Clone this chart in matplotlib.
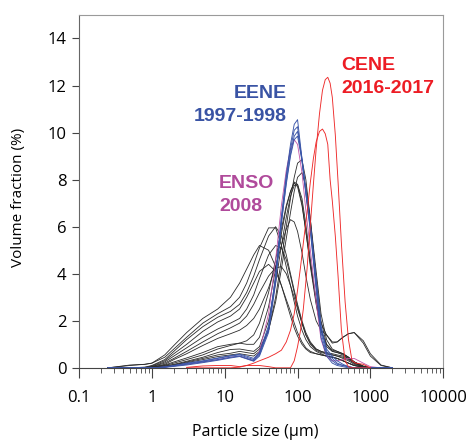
import matplotlib.pyplot as plt
from matplotlib.ticker import LogLocator, NullFormatter, FixedLocator

plt.rcParams['font.family'] = ['Open Sans', 'DejaVu Sans']

# particle size grid (um), shared by the black / blue / magenta curves
size_um = [0.25, 0.5, 0.8, 1, 1.5, 2,
           3, 5, 8, 12, 16, 20,
           25, 30, 40, 50, 60, 70,
           80, 90, 100, 115, 130, 150,
           180, 210, 250, 300, 350, 420,
           500, 600, 800, 1000, 1400, 2000]

# finer grid for the narrow red peaks
size_red = [3, 5, 8, 12, 16, 20, 25, 30, 40, 50, 60, 70,
            80, 90, 100, 110, 120, 135, 150, 165, 180, 200, 220, 240,
            260, 280, 300, 330, 360, 400, 450, 500, 560, 630, 800, 1000]

# other years (black)
k_a = [0, 0.12, 0.15, 0.2, 0.55, 0.95, 1.5, 2.1, 2.5, 3.0, 3.6, 4.2,
       4.8, 5.2, 5.0, 4.3, 3.5, 2.8, 2.2, 1.7, 1.35, 1.0, 0.8, 0.65,
       0.6, 0.55, 0.5, 0.45, 0.4, 0.3, 0.2, 0.1, 0.03, 0, 0, 0]
k_b = [0, 0.1, 0.15, 0.2, 0.45, 0.8, 1.3, 1.9, 2.3, 2.6, 3.0, 3.6,
       4.4, 5.1, 5.95, 5.95, 5.2, 4.3, 3.5, 2.8, 2.2, 1.6, 1.2, 0.9,
       0.7, 0.6, 0.5, 0.45, 0.4, 0.3, 0.2, 0.1, 0.03, 0, 0, 0]
k_c = [0, 0, 0.03, 0.1, 0.35, 0.7, 1.2, 1.75, 2.15, 2.4, 2.7, 3.2,
       3.9, 4.6, 5.6, 6.0, 5.6, 4.8, 4.0, 3.3, 2.7, 2.0, 1.5, 1.1,
       0.8, 0.7, 0.6, 0.55, 0.5, 0.4, 0.3, 0.15, 0.05, 0, 0, 0]
k_d = [0, 0, 0.02, 0.08, 0.3, 0.6, 1.0, 1.55, 1.95, 2.2, 2.5, 3.0,
       3.6, 4.1, 4.4, 4.1, 3.5, 2.9, 2.4, 1.9, 1.5, 1.1, 0.85, 0.7,
       0.6, 0.55, 0.5, 0.45, 0.4, 0.3, 0.2, 0.1, 0.03, 0, 0, 0]
k_e = [0, 0, 0, 0.05, 0.25, 0.5, 0.85, 1.3, 1.65, 1.9, 2.1, 2.5,
       3.1, 3.8, 4.8, 5.2, 5.1, 4.6, 3.9, 3.2, 2.6, 1.9, 1.4, 1.0,
       0.75, 0.65, 0.6, 0.55, 0.5, 0.45, 0.35, 0.2, 0.05, 0, 0, 0]
k_f = [0, 0, 0, 0.05, 0.2, 0.4, 0.7, 1.1, 1.45, 1.7, 1.9, 2.2,
       2.7, 3.2, 3.9, 4.25, 4.3, 4.0, 3.5, 3.0, 2.5, 1.9, 1.4, 1.05,
       0.8, 0.7, 0.65, 0.6, 0.55, 0.5, 0.4, 0.25, 0.08, 0, 0, 0]
k_g = [0, 0, 0, 0.03, 0.15, 0.35, 0.6, 0.95, 1.25, 1.45, 1.6, 1.8,
       2.1, 2.5, 3.4, 4.3, 5.2, 5.9, 6.3, 6.2, 5.8, 4.9, 3.9, 2.9,
       2.0, 1.6, 1.4, 1.1, 1.1, 1.3, 1.45, 1.5, 1.05, 0.5, 0.1, 0]
k_h = [0, 0, 0, 0.02, 0.1, 0.2, 0.35, 0.55, 0.8, 0.95, 1.05, 1.15,
       1.4, 1.9, 3.2, 4.6, 5.9, 6.9, 7.5, 7.85, 7.7, 6.9, 5.8, 4.4,
       2.9, 1.9, 1.4, 1.05, 1.1, 1.3, 1.45, 1.5, 1.15, 0.6, 0.12, 0]
k_i = [0, 0, 0, 0, 0.08, 0.15, 0.28, 0.45, 0.65, 0.78, 0.8, 0.75,
       0.7, 0.9, 2.0, 3.6, 5.2, 6.4, 7.3, 7.75, 7.8, 7.2, 6.1, 4.6,
       2.8, 1.6, 0.9, 0.7, 0.65, 0.55, 0.4, 0.2, 0.05, 0, 0, 0]
k_j = [0, 0, 0, 0, 0.05, 0.12, 0.22, 0.35, 0.48, 0.55, 0.6, 0.55,
       0.5, 0.7, 1.6, 3.0, 4.6, 6.0, 7.2, 8.1, 8.7, 8.85, 8.0, 6.3,
       3.8, 2.0, 1.0, 0.7, 0.65, 0.6, 0.45, 0.25, 0.05, 0, 0, 0]
k_k = [0, 0, 0, 0, 0.05, 0.12, 0.25, 0.4, 0.55, 0.62, 0.7, 0.65,
       0.6, 0.8, 1.6, 2.8, 4.2, 5.5, 6.6, 7.5, 8.1, 8.3, 7.7, 6.3,
       4.1, 2.3, 1.2, 0.8, 0.7, 0.6, 0.45, 0.25, 0.05, 0, 0, 0]
k_l = [0, 0, 0, 0.03, 0.12, 0.25, 0.42, 0.65, 0.9, 1.0, 1.05, 1.0,
       1.0, 1.3, 2.6, 4.2, 5.7, 6.8, 7.5, 7.9, 7.8, 7.0, 5.8, 4.3,
       2.7, 1.6, 1.0, 0.75, 0.7, 0.6, 0.45, 0.25, 0.06, 0, 0, 0]

# EENE 1997-1998 (blue)
b_1 = [0, 0, 0, 0, 0.03, 0.08, 0.15, 0.25, 0.35, 0.45, 0.5, 0.4,
       0.3, 0.55, 1.6, 3.8, 6.4, 8.2, 9.5, 10.35, 10.55, 8.9, 7.4, 5.8,
       3.3, 1.3, 0.5, 0.2, 0.1, 0.05, 0, 0, 0, 0, 0, 0]
b_2 = [0, 0, 0, 0, 0.03, 0.1, 0.18, 0.28, 0.4, 0.5, 0.55, 0.45,
       0.35, 0.6, 1.7, 3.9, 6.4, 8.1, 9.3, 10.1, 10.25, 8.8, 7.4, 5.9,
       3.5, 1.5, 0.6, 0.3, 0.15, 0.1, 0.05, 0, 0, 0, 0, 0]
b_3 = [0, 0, 0, 0, 0.02, 0.06, 0.12, 0.22, 0.32, 0.42, 0.48, 0.38,
       0.28, 0.5, 1.5, 3.6, 6.1, 7.9, 9.1, 9.85, 10.05, 8.9, 7.6, 6.1,
       3.8, 1.8, 0.7, 0.4, 0.2, 0.1, 0.05, 0, 0, 0, 0, 0]
b_4 = [0, 0, 0, 0, 0.04, 0.1, 0.2, 0.3, 0.42, 0.52, 0.58, 0.5,
       0.4, 0.65, 1.8, 3.9, 6.2, 7.8, 9.0, 9.7, 9.85, 8.8, 7.5, 6.0,
       3.7, 1.7, 0.8, 0.5, 0.3, 0.15, 0.05, 0, 0, 0, 0, 0]

# ENSO 2008 (magenta)
m_1 = [0, 0, 0, 0, 0.03, 0.08, 0.15, 0.25, 0.35, 0.45, 0.5, 0.4,
       0.3, 0.7, 2.3, 4.6, 6.9, 8.4, 9.3, 9.7, 9.5, 8.3, 6.7, 5.0,
       2.8, 1.2, 0.5, 0.3, 0.3, 0.35, 0.4, 0.4, 0.2, 0.05, 0, 0]

# CENE 2016-2017 (red), on size_red
r_1 = [0.02, 0.08, 0.1, 0.1, 0.05, 0.1, 0.1, 0.1, 0.05, 0, 0, 0,
       0, 0.3, 0.9, 1.6, 2.5, 4.2, 6.1, 7.8, 9.3, 10.8, 11.8, 12.25,
       12.35, 12.1, 11.5, 9.9, 7.9, 5.3, 2.8, 1.2, 0.3, 0.2, 0.15, 0]
r_2 = [0, 0, 0, 0, 0.03, 0.1, 0.2, 0.3, 0.45, 0.6, 0.75, 1.1,
       1.6, 2.3, 3.3, 4.3, 5.3, 6.6, 7.9, 8.9, 9.6, 10.05, 10.15, 9.95,
       9.5, 8.0, 7.1, 5.6, 3.9, 1.6, 0.3, 0.05, 0, 0, 0, 0]

black_curves = [k_a, k_b, k_c, k_d, k_e, k_f, k_g, k_h, k_i, k_j, k_k, k_l]
blue_curves = [b_1, b_2, b_3, b_4]
magenta_curves = [m_1]
red_curves = [r_1, r_2]

fig = plt.figure(figsize=(4.68, 4.40), dpi=100)
ax = fig.add_axes([0.169, 0.164, 0.778, 0.802])

for vals in black_curves:
    ax.plot(size_um, vals, c='#2a2a2a', lw=0.6)
for vals in magenta_curves:
    ax.plot(size_um, vals, c='#c054a8', lw=0.6)
for vals in blue_curves:
    ax.plot(size_um, vals, c='#3a55a8', lw=0.65)
for vals in red_curves:
    ax.plot(size_red, vals, c='#ee2a2a', lw=0.65)

ax.set_xscale('log')
ax.set_xlim(0.1, 10000)
ax.set_ylim(0, 15)
ax.xaxis.set_major_locator(FixedLocator([0.1, 1, 10, 100, 1000, 10000]))
ax.set_xticklabels(['0.1', '1', '10', '100', '1000', '10000'])
ax.xaxis.set_minor_locator(LogLocator(base=10, subs=range(2, 10)))
ax.xaxis.set_minor_formatter(NullFormatter())
ax.set_yticks(range(0, 15, 2))
ax.tick_params(axis='both', which='major', labelsize=12, color='#444444', length=5, width=0.8)
ax.tick_params(axis='x', which='major', length=7, pad=9)
ax.tick_params(axis='x', which='minor', length=3.5, width=0.6, color='#444444')
ax.tick_params(axis='y', pad=4)

for side in ['top', 'right']:
    ax.spines[side].set_color('#9a9a9a')
    ax.spines[side].set_linewidth(0.8)
ax.spines['left'].set_color('#666666')
ax.spines['bottom'].set_color('#444444')

ax.set_ylabel('Volume fraction (%)', fontsize=11)
ax.set_xlabel('Particle size (\u00b5m)', fontsize=11.5)
ax.yaxis.set_label_coords(-0.146, 0.484)
ax.xaxis.set_label_coords(0.484, -0.158)

lab = dict(fontsize=14, fontweight='bold', va='center', family=['Liberation Sans'])
ax.text(72, 11.65, 'EENE', color='#3953a4', ha='right', **lab)
ax.text(72, 10.68, '1997-1998', color='#3953a4', ha='right', **lab)
ax.text(400, 12.85, 'CENE', color='#ed1c24', ha='left', **lab)
ax.text(400, 11.87, '2016-2017', color='#ed1c24', ha='left', **lab)
ax.text(8.4, 7.83, 'ENSO', color='#b04a9b', ha='left', **lab)
ax.text(8.4, 6.85, '2008', color='#b04a9b', ha='left', **lab)

plt.savefig('out.png', dpi=100)
plt.close()
